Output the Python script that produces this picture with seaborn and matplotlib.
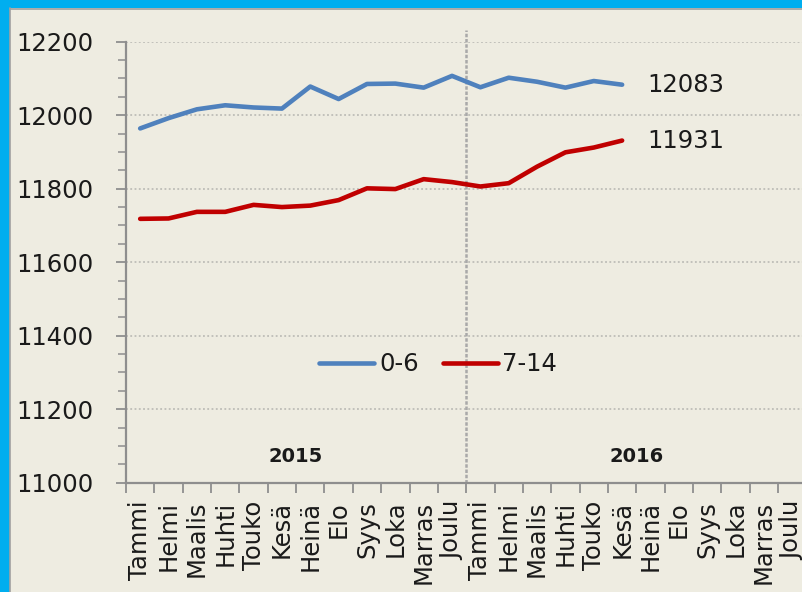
import matplotlib
matplotlib.use("Agg")
import matplotlib.pyplot as plt
import seaborn as sns
import pandas as pd
import numpy as np
from matplotlib.patches import Rectangle
from matplotlib.lines import Line2D

months = ["Tammi", "Helmi", "Maalis", "Huhti", "Touko", "Kesä",
          "Heinä", "Elo", "Syys", "Loka", "Marras", "Joulu"]
years = ["2015", "2016"]
tick_labels = months * 2
series_names = ["0-6", "7-14"]
values_0_6 = [11964, 11992, 12016, 12027, 12021, 12018, 12078, 12044, 12085,
              12086, 12075, 12107, 12076, 12102, 12091, 12075, 12093, 12083]
values_7_14 = [11718, 11719, 11737, 11737, 11756, 11750, 11754, 11769, 11801,
               11799, 11826, 11818, 11806, 11815, 11860, 11899, 11912, 11931]
colors = ["#4F81BD", "#C00000"]

bg = "#EEECE1"
axis_gray = "#8E8E8E"

sns.set_theme(style="white")
plt.rcParams["font.family"] = ["DejaVu Sans"]

W, H = 803, 592
fig = plt.figure(figsize=(W / 100, H / 100), dpi=100, facecolor=bg)
ax_left, ax_right_px = 126, 126 + 24 * 28.35
ax_top, ax_bot = 41.7, 482.7
ax = fig.add_axes([ax_left / W, (H - ax_bot) / H,
                   (ax_right_px - ax_left) / W, (ax_bot - ax_top) / H])
ax.set_facecolor(bg)

df = pd.DataFrame({
    "idx": list(range(len(values_0_6))) * 2,
    "value": values_0_6 + values_7_14,
    "series": [series_names[0]] * len(values_0_6) + [series_names[1]] * len(values_7_14),
})
sns.lineplot(data=df, x="idx", y="value", hue="series", palette=colors,
             linewidth=3.3, ax=ax, legend=False, zorder=5)

ax.set_xlim(-0.5, 23.5)
ax.set_ylim(11000, 12200)

# grid
for yv in range(11200, 12201, 200):
    ax.axhline(yv, color="#B5B5B0", lw=1.1, ls=(0, (1.2, 1.6)), zorder=1)

# year divider
ax.add_line(Line2D([11.5, 11.5], [11000, 12233], color="#A9A9A9", lw=1.8,
                   ls=(0, (1.4, 0.7)), clip_on=False, zorder=2))

# ticks
ax.set_yticks(np.arange(11000, 12201, 200))
ax.set_yticks(np.arange(11000, 12201, 50), minor=True)
ax.set_yticklabels([str(v) for v in range(11000, 12201, 200)])
ax.set_xticks(range(24))
ax.set_xticklabels(tick_labels, rotation=90)
ax.set_xticks(np.arange(-0.5, 24, 1), minor=True)
ax.tick_params(axis="y", which="major", length=7.5, width=1.3, color=axis_gray,
               labelsize=17.5, pad=16, left=True, labelcolor="#1a1a1a")
ax.tick_params(axis="y", which="minor", length=5.5, width=1.1, color=axis_gray, left=True)
ax.tick_params(axis="x", which="major", length=0, labelsize=17.5, pad=13,
               bottom=True, labelcolor="#1a1a1a")
ax.tick_params(axis="x", which="minor", length=7.5, width=1.3, color=axis_gray, bottom=True)
ax.set_xlabel("")
ax.set_ylabel("")

for s in ["top", "right"]:
    ax.spines[s].set_visible(False)
for s in ["left", "bottom"]:
    ax.spines[s].set_color(axis_gray)
    ax.spines[s].set_linewidth(1.6)

# year labels
for i, yr in enumerate(years):
    ax.text(i * 12 + 5.5, 11070, yr, ha="center", va="center", fontsize=14,
            fontweight="bold", color="#1a1a1a")

# end annotations
last = len(values_0_6) - 1
for vals in (values_0_6, values_7_14):
    ax.annotate(str(vals[-1]), xy=(last, vals[-1]), xytext=(18, 0),
                textcoords="offset points", ha="left", va="center",
                fontsize=17.5, color="#1a1a1a")

# legend
handles = [Line2D([], [], color=c, lw=3.3, solid_capstyle="round") for c in colors]
ax.legend(handles, series_names, loc="center", bbox_to_anchor=(0.459, 0.269),
          ncol=2, frameon=False, fontsize=17.5, handlelength=2.25,
          handletextpad=0.2, columnspacing=1.0, labelcolor="#1a1a1a")

# outer frame: blue bands (left, top) and thin gray inner edge
fig.patches.append(Rectangle((0, 0), 10 / W, 1, transform=fig.transFigure,
                             facecolor="#00AEEF", edgecolor="none", zorder=10))
fig.patches.append(Rectangle((0, 1 - 8 / H), 1, 8 / H, transform=fig.transFigure,
                             facecolor="#00AEEF", edgecolor="none", zorder=10))
fig.lines.append(Line2D([10.5 / W, 10.5 / W], [0, 1 - 8 / H], transform=fig.transFigure,
                        color="#A0A0A0", lw=1.2, zorder=11))
fig.lines.append(Line2D([10 / W, 1], [1 - 8.6 / H, 1 - 8.6 / H], transform=fig.transFigure,
                        color="#A0A0A0", lw=1.2, zorder=11))

fig.savefig("out.png", dpi=100, facecolor=bg)
